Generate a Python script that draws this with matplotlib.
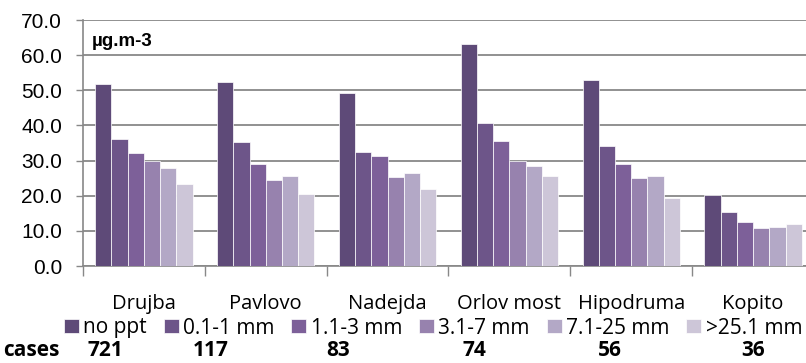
import numpy as np
import matplotlib
matplotlib.use('Agg')
import matplotlib.pyplot as plt

# data
stations = ['Drujba', 'Pavlovo', 'Nadejda', 'Orlov most', 'Hipodruma', 'Kopito']
classes = ['no ppt', '0.1-1 mm', '1.1-3 mm', '3.1-7 mm', '7.1-25 mm', '>25.1 mm']
no_ppt = [51.8, 52.3, 49.3, 63.1, 53.0, 20.1]
ppt_0_1 = [36.2, 35.4, 32.5, 40.8, 34.1, 15.5]
ppt_1_3 = [32.1, 28.9, 31.2, 35.7, 28.9, 12.4]
ppt_3_7 = [29.9, 24.5, 25.4, 29.9, 25.0, 10.8]
ppt_7_25 = [28.0, 25.7, 26.4, 28.5, 25.7, 11.0]
ppt_25 = [23.4, 20.4, 21.9, 25.7, 19.4, 11.9]
cases = [721, 117, 83, 74, 56, 36]

series = [no_ppt, ppt_0_1, ppt_1_3, ppt_3_7, ppt_7_25, ppt_25]
colors = ['#5e4a78', '#6d5589', '#7d6099', '#9782ae', '#b3a8c6', '#cdc6d8']

W, H = 806, 363
fig = plt.figure(figsize=(W / 100, H / 100), dpi=100)
# axes runs slightly past the right edge, like the original
ax = fig.add_axes([83 / W, 1 - 266 / H, 731 / W, 246 / H])

x = np.arange(len(stations))
bw = 0.8 / len(series)
for i, (vals, c, lab) in enumerate(zip(series, colors, classes)):
    ax.bar(x - 0.4 + bw * (i + 0.5), vals, bw, color=c, label=lab,
           edgecolor='white', linewidth=0.5, zorder=3)

ax.set_xlim(-0.5, len(stations) - 0.5)
ax.set_ylim(0, 70)
ax.set_yticks(np.arange(0, 71, 10))
ax.set_yticklabels([f'{v:.1f}' for v in np.arange(0, 71, 10)],
                   fontsize=15, family=['Liberation Sans', 'DejaVu Sans'])
ax.yaxis.grid(True, color='#888888', linewidth=1.3, zorder=0)
ax.tick_params(axis='y', length=5, color='#888888', width=1, pad=10)

ax.set_xticks(x)
ax.set_xticklabels(stations, fontsize=14.5, family=['Open Sans', 'DejaVu Sans'])
ax.tick_params(axis='x', which='major', length=0, pad=20)
ax.set_xticks(np.arange(-0.5, len(stations), 1), minor=True)
ax.tick_params(axis='x', which='minor', length=7, color='#888888', width=1)

for s in ['top', 'right']:
    ax.spines[s].set_visible(False)
for s in ['left', 'bottom']:
    ax.spines[s].set_color('#888888')
    ax.spines[s].set_linewidth(1.2)

fig.text(92 / W, 1 - 41 / H, 'µg.m-3', fontsize=13.5, fontweight='bold',
         va='center', ha='left', family=['Liberation Sans', 'DejaVu Sans'])

fig.legend(loc='center', bbox_to_anchor=(433 / W, 1 - 328 / H), ncol=6,
           frameon=False, prop={'family': ['Open Sans', 'DejaVu Sans'], 'size': 15},
           handlelength=0.72, handleheight=0.63, handletextpad=0.22,
           columnspacing=0.8, borderpad=0, borderaxespad=0)

case_x = [105, 211, 338, 474, 610, 753]
fig.text(3 / W, 1 - 351 / H, 'cases', fontsize=15, fontweight='bold', va='center',
         ha='left', family=['Open Sans', 'DejaVu Sans'])
for cx, n in zip(case_x, cases):
    fig.text(cx / W, 1 - 351 / H, str(n), fontsize=15, fontweight='bold',
             va='center', ha='center', family=['Open Sans', 'DejaVu Sans'])

fig.savefig('out.png', dpi=100)
